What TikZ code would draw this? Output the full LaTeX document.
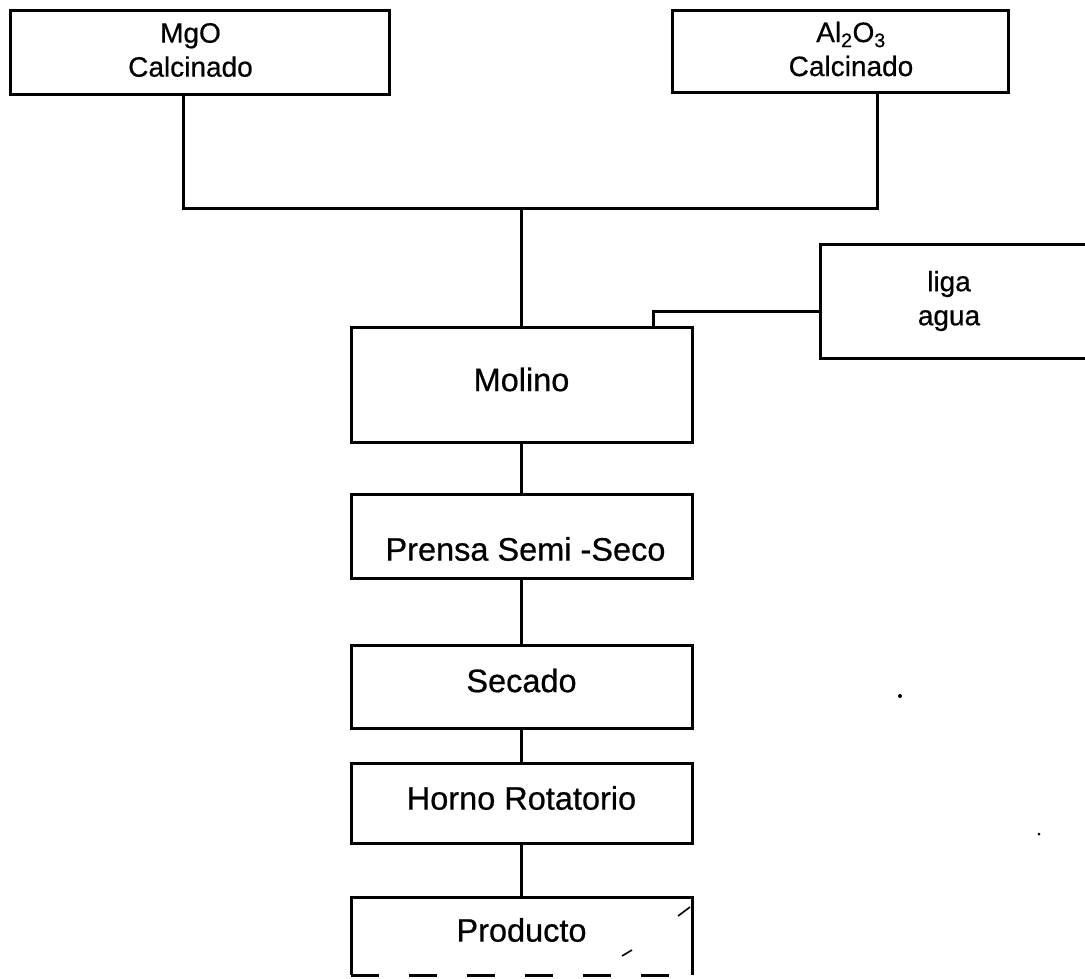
\documentclass[tikz,border=0pt]{standalone}
\usepackage{fontspec}
\setmainfont{Liberation Sans}[FakeBold=0.6]
\newcommand\vshift[2]{\raisebox{#1}[\height][\depth]{#2}}
\begin{document}
\begin{tikzpicture}[x=1pt,y=-1pt,
  box/.style={draw, line width=3pt, inner sep=0pt, outer sep=0pt, align=center},
  topfont/.style={font=\fontsize{28}{34}\selectfont},
  procfont/.style={font=\fontsize{32.5}{38}\selectfont},
  conn/.style={line width=3pt},
  speck/.style={line width=1.6pt}]
\useasboundingbox[fill=white] (0,0) rectangle (1085,978);
% raw materials
\node[box, topfont, minimum width=379pt, minimum height=84pt] (mgo) at (199.5,52) {\hspace*{-18pt}\vshift{2pt}{MgO}\\\hspace*{-18pt}\vshift{2pt}{Calcinado}};
\node[box, topfont, minimum width=336pt, minimum height=82pt] (al) at (840,51) {\hspace*{22pt}\vshift{2pt}{Al\textsubscript{2}O\textsubscript{3}}\\\hspace*{22pt}\vshift{2pt}{Calcinado}};
\node[box, topfont, minimum width=280pt, minimum height=114pt] (liga) at (960,301) {\hspace*{-22pt}liga\\\hspace*{-22pt}agua};
% process
\node[box, procfont, minimum width=341pt, minimum height=115pt] (molino) at (521.5,384.5) {\vshift{5pt}{Molino}};
\node[box, procfont, minimum width=341pt, minimum height=84pt] (prensa) at (521.5,536) {\hspace*{8pt}\vshift{-13pt}{Prensa Semi -Seco}};
\node[box, procfont, minimum width=341pt, minimum height=83pt] (secado) at (521.5,686.5) {\vshift{6pt}{Secado}};
\node[box, procfont, minimum width=341pt, minimum height=80pt] (horno) at (521.5,803) {\vshift{5pt}{Horno Rotatorio}};
\node[procfont, inner sep=0pt, outer sep=0pt, minimum width=341pt, minimum height=78pt] (prod) at (521.5,936) {\vshift{6pt}{Producto}};
\draw[conn] (prod.south west) -- (prod.north west) -- (prod.north east) -- (prod.south east);
\draw[conn, dash pattern=on 28pt off 30pt] (prod.south west) -- (prod.south east);
% connectors
\coordinate (j) at (521.5,208);
\draw[conn] ([xshift=-16.5pt]mgo.south) |- (j) -| ([xshift=37pt]al.south);
\draw[conn] (j) -- (molino.north);
\draw[conn] ([yshift=-10pt]liga.west) -| ([xshift=131.5pt]molino.north);
\draw[conn] (molino.south) -- (prensa.north);
\draw[conn] (prensa.south) -- (secado.north);
\draw[conn] (secado.south) -- (horno.north);
\draw[conn] (horno.south) -- (prod.north);
% scan specks
\draw[speck] (678,916) -- (690,907);
\draw[speck] (622,956) -- (632,950);
\fill (900,696) circle (2pt);
\fill (1039,834) circle (1.5pt);
\end{tikzpicture}
\end{document}
